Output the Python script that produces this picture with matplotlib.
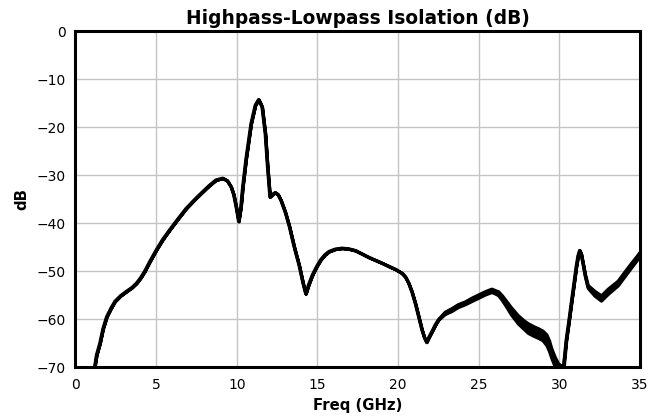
import matplotlib
matplotlib.use("Agg")
import matplotlib.pyplot as plt
import numpy as np

# Measured isolation between the highpass and lowpass ports (trace centre)
freq_ghz = [
    1.16, 1.3, 1.51, 1.7, 1.93, 2.2, 2.44, 2.8, 3.16, 3.5, 3.78, 4.05, 4.29, 4.6,
    5.0, 5.4, 5.83, 6.3, 6.86, 7.4, 7.89, 8.3, 8.7, 9.12, 9.4, 9.64, 9.8, 9.95,
    10.11, 10.25, 10.36, 10.57, 10.88, 11.14, 11.35, 11.56, 11.76, 11.9, 12.05,
    12.2, 12.38, 12.55, 12.73, 13.0, 13.24, 13.55, 13.86, 14.1, 14.27, 14.45,
    14.68, 14.95, 15.2, 15.45, 15.71, 16.1, 16.53, 16.95, 17.36, 18.18, 19.0,
    19.5, 19.83, 20.23, 20.45, 20.65, 20.85, 21.06, 21.27, 21.47, 21.62, 21.76,
    21.9, 22.09, 22.3, 22.5,
    22.9, 23.32, 23.7, 24.15, 24.6, 24.97, 25.4, 25.79, 26.0, 26.2, 26.45, 26.72,
    27.0, 27.44, 27.8, 28.06, 28.4, 28.67, 28.95, 29.19, 29.35, 29.5, 29.7,
    29.91, 30.1, 30.25,
    30.42, 30.58, 30.73, 30.9, 31.04, 31.15, 31.25, 31.35, 31.45, 31.6, 31.76,
    32.17, 32.58, 33.0, 33.61, 34.23, 34.85, 35.0,
]
isolation_db = [
    -70.5, -67.5, -65.0, -62.0, -59.5, -57.7, -56.3, -55.1, -54.2, -53.4, -52.5,
    -51.3, -50.0, -48.0, -45.6, -43.4, -41.4, -39.3, -36.9, -35.0, -33.4, -32.1,
    -31.0, -30.6, -31.1, -32.4, -34.0, -36.5, -39.6, -36.5, -32.5, -26.5, -19.2,
    -15.4, -14.2, -15.7, -21.3, -28.2, -34.5, -34.0, -33.6, -34.0, -35.2, -37.7,
    -40.5, -44.9, -48.8, -52.5, -54.7, -52.8, -50.8, -49.0, -47.6, -46.6, -45.9,
    -45.4, -45.2, -45.35, -45.7, -47.1, -48.3, -49.1, -49.6, -50.4, -51.2, -52.5,
    -54.3, -56.7, -59.5, -62.2, -63.8, -64.8, -63.8, -62.6, -61.2, -60.1,
    -58.7, -58.0, -57.2, -56.6, -55.8, -55.2, -54.5, -54.0, -54.3, -54.6, -55.6,
    -56.9,
    -58.3, -60.1, -61.2, -61.9, -62.5, -62.9, -63.4, -64.3, -65.5, -67.1, -68.8,
    -70.2, -70.5, -70.0,
    -64.3, -60.5, -56.7, -52.5, -49.0, -46.8, -45.7, -46.5, -48.3, -51.0, -53.2,
    -54.6, -55.6, -54.2, -52.5, -49.7, -47.0, -46.3,
]
# Half-width of the measurement noise band around the trace centre
noise_halfwidth_db = [0.0] * 76 + [
    0.25, 0.3, 0.3, 0.3, 0.35, 0.35, 0.35, 0.35, 0.35, 0.4, 0.5, 0.6,
    0.75, 0.85, 0.9, 1.0, 1.0, 1.0, 1.0, 1.1, 1.1, 1.0, 1.0,
    1.0, 0.8, 0.6,
    0.2, 0.1, 0.1, 0.1, 0.1, 0.1, 0.1, 0.1, 0.1, 0.2, 0.3,
    0.5, 0.55, 0.55, 0.5, 0.5, 0.45, 0.45,
]

x_ticks = [0, 5, 10, 15, 20, 25, 30, 35]
y_ticks = [0, -10, -20, -30, -40, -50, -60, -70]

fig = plt.figure(figsize=(6.65, 4.19), dpi=100)
ax = fig.add_axes([0.1135, 0.124, 0.849, 0.801])

f = np.asarray(freq_ghz)
db = np.asarray(isolation_db)
spread = np.asarray(noise_halfwidth_db)

ax.fill_between(f, db - spread, db + spread, color="black", linewidth=2.3,
                edgecolor="black", zorder=3)
ax.plot(f, db, color="black", linewidth=2.3, solid_joinstyle="round",
        solid_capstyle="round", zorder=3)

ax.set_xlim(0, 35)
ax.set_ylim(-70, 0)
ax.set_xticks(x_ticks)
ax.set_yticks(y_ticks)
ax.grid(True, color="#c4c4c4", linewidth=1.0, zorder=0)
ax.tick_params(axis="x", length=0, labelsize=10, pad=8)
ax.tick_params(axis="y", length=0, labelsize=10, pad=7)

for spine in ax.spines.values():
    spine.set_linewidth(2.2)
    spine.set_color("black")
    spine.set_zorder(4)

ax.set_title("Highpass-Lowpass Isolation (dB)", fontsize=13.4,
             fontweight="bold", pad=5)
ax.set_xlabel("Freq (GHz)", fontsize=10.7, fontweight="bold", labelpad=4)
ax.set_ylabel("dB", fontsize=10.7, fontweight="bold", labelpad=5)

fig.savefig("out.png", dpi=100)
